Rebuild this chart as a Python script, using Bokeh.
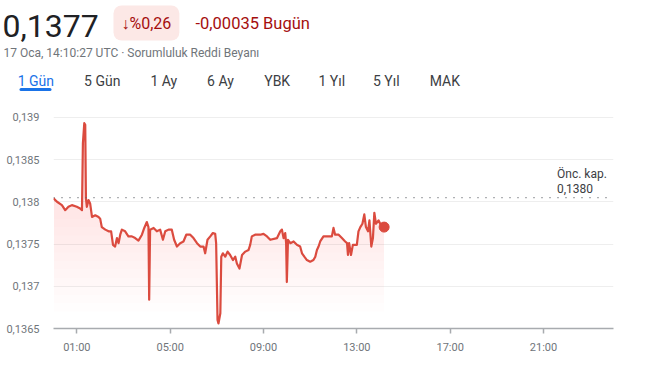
import numpy as np
from bokeh.plotting import figure
from bokeh.layouts import column
from bokeh.models import Range1d, FixedTicker, Span, Label
from bokeh.embed import file_html
from bokeh.resources import INLINE

# ---------------- data ----------------
hours = [0.00, 0.15, 0.36, 0.50, 0.64, 0.79, 1.00, 1.14, 1.22, 1.26, 1.32, 1.36, 1.39, 1.43, 1.50,
         1.57, 1.65, 1.79, 1.93, 2.00, 2.07, 2.22, 2.36, 2.47, 2.55, 2.64, 2.72, 2.79, 2.86, 2.93,
         3.07, 3.21, 3.36, 3.50, 3.64, 3.79, 3.89, 4.00, 4.07, 4.10, 4.14, 4.29, 4.43, 4.57, 4.69,
         4.79, 4.93, 5.07, 5.17, 5.29, 5.43, 5.57, 5.69, 5.86, 6.00, 6.15, 6.29, 6.43, 6.50, 6.60,
         6.72, 6.83, 6.93, 6.97, 7.03, 7.07, 7.15, 7.19, 7.26, 7.36, 7.46, 7.57, 7.69, 7.79, 7.86,
         7.97, 8.08, 8.22, 8.36, 8.43, 8.50, 8.64, 8.86, 9.00, 9.15, 9.29, 9.58, 9.72, 9.79, 9.86,
         9.93, 9.97, 10.00, 10.05, 10.15, 10.29, 10.43, 10.57, 10.65, 10.75, 10.86, 11.00, 11.14, 11.22,
         11.29, 11.36, 11.43, 11.57, 11.79, 11.93, 12.00, 12.07, 12.22, 12.36, 12.50, 12.58, 12.62,
         12.67, 12.75, 12.83, 13.00, 13.07, 13.15, 13.24, 13.32, 13.39, 13.48, 13.54, 13.62, 13.69,
         13.75, 13.82, 13.93, 14.00, 14.14, 14.17]
prices = [0.13804, 0.13800, 0.13796, 0.13790, 0.13794, 0.13796, 0.13794, 0.13792, 0.13790, 0.13869,
          0.13893, 0.13891, 0.13804, 0.13794, 0.13802, 0.13798, 0.13782, 0.13784, 0.13782, 0.13780,
          0.13770, 0.13767, 0.13765, 0.13765, 0.13749, 0.13747, 0.13757, 0.13751, 0.13761, 0.13767,
          0.13765, 0.13759, 0.13759, 0.13757, 0.13754, 0.13761, 0.13769, 0.13776, 0.13770, 0.13684,
          0.13767, 0.13769, 0.13765, 0.13767, 0.13755, 0.13765, 0.13767, 0.13767, 0.13755, 0.13747,
          0.13751, 0.13753, 0.13761, 0.13761, 0.13757, 0.13751, 0.13747, 0.13747, 0.13739, 0.13755,
          0.13759, 0.13763, 0.13762, 0.13751, 0.13660, 0.13656, 0.13668, 0.13735, 0.13739, 0.13735,
          0.13741, 0.13737, 0.13731, 0.13735, 0.13727, 0.13721, 0.13737, 0.13741, 0.13743, 0.13749,
          0.13759, 0.13761, 0.13761, 0.13762, 0.13759, 0.13755, 0.13757, 0.13765, 0.13767, 0.13757,
          0.13763, 0.13751, 0.13705, 0.13755, 0.13751, 0.13753, 0.13749, 0.13747, 0.13739, 0.13735,
          0.13731, 0.13729, 0.13731, 0.13735, 0.13743, 0.13747, 0.13753, 0.13759, 0.13759, 0.13759,
          0.13769, 0.13761, 0.13761, 0.13757, 0.13753, 0.13751, 0.13737, 0.13751, 0.13737, 0.13749,
          0.13749, 0.13765, 0.13770, 0.13774, 0.13785, 0.13770, 0.13765, 0.13778, 0.13747, 0.13757,
          0.13787, 0.13774, 0.13778, 0.13774, 0.13769, 0.13770]
prev_close = 0.13805
y_tick_values = [0.1365, 0.137, 0.1375, 0.138, 0.1385, 0.139]
y_tick_labels = ["0,1365", "0,137", "0,1375", "0,138", "0,1385", "0,139"]
x_tick_values = [1, 5, 9, 13, 17, 21]
x_tick_labels = ["01:00", "05:00", "09:00", "13:00", "17:00", "21:00"]
price_text = "0,1377"
change_pct_text = "↓%0,26"
change_abs_text = "-0,00035 Bugün"
date_text = "17 Oca, 14:10:27 UTC · Sorumluluk Reddi Beyanı"
tabs = ["1 Gün", "5 Gün", "1 Ay", "6 Ay", "YBK", "1 Yıl", "5 Yıl", "MAK"]
prev_label = ["Önc. kap.", "0,1380"]

# ---------------- styles ----------------
FONT = "Roboto"
RED = "#db4b3f"
W, H = 660, 365
HH = 100                              # header height
FL, FR, FT, FB = 53, 613, 110, 328    # chart frame edges on the page

# ---------------- header (pixel coordinates) ----------------
hdr = figure(width=W, height=HH, output_backend="svg", toolbar_location=None,
             x_range=Range1d(0, W), y_range=Range1d(HH, 0),
             min_border=0, x_axis_type=None, y_axis_type=None)
hdr.frame_align = False
hdr.outline_line_color = None
hdr.grid.visible = False
hdr.border_fill_color = "white"


def hlab(text, cx, cy, size, color, align="left", baseline="middle", **kw):
    hdr.add_layout(Label(x=cx, y=cy, text=text, text_font=FONT, text_font_size=size,
                         text_color=color, text_align=align, text_baseline=baseline, **kw))


hlab(price_text, 2, 25, "32px", "#202124")
hlab(change_pct_text, 113, 22.5, "16px", "#a50e0e", background_fill_color="#fce8e6",
     padding=8, border_radius=8)
hlab(change_abs_text, 195, 22.5, "16.5px", "#a50e0e")
hlab(date_text, 3, 52.5, "12px", "#70757a")

tab_centers = [35.3, 101.7, 163.3, 220, 276.7, 331.3, 385.8, 444.3]
for i, (t, c) in enumerate(zip(tabs, tab_centers)):
    hlab(t, c, 80, "14px", "#1a73e8" if i == 0 else "#3c4043", align="center")
hdr.segment(x0=[20.5], y0=[89], x1=[49.5], y1=[89], line_color="#1a73e8",
            line_width=3, line_cap="round")

# ---------------- chart ----------------
p = figure(width=W, height=H - HH, output_backend="svg", toolbar_location=None,
           x_range=Range1d(0, 24), y_range=Range1d(0.1365, 0.1365 + (FB - FT) / 84500.0),
           min_border_left=FL, min_border_right=W - FR, min_border_top=FT - HH,
           min_border_bottom=H - FB)
p.frame_align = False
p.outline_line_color = None
p.background_fill_color = "white"
p.border_fill_color = "white"

x = np.array(hours)
yv = np.array(prices)
for b in np.arange(0.1367, 0.13806, 0.0001):
    p.varea(x=x, y1=b, y2=np.maximum(yv, b), fill_color=RED, fill_alpha=0.0105)

p.line(x, yv, line_color=RED, line_width=2.2, line_join="round")
p.scatter([hours[-1]], [prices[-1]], size=10, color=RED)

p.add_layout(Span(location=prev_close, dimension="width", line_color="#5f6368",
                  line_dash="1 7", line_width=1.2))

p.xgrid.grid_line_color = None
p.ygrid.grid_line_color = "#eeeeee"
p.ygrid.ticker = FixedTicker(ticks=y_tick_values)
p.yaxis.ticker = FixedTicker(ticks=y_tick_values)
p.yaxis.major_label_overrides = dict(zip(y_tick_values, y_tick_labels))
p.yaxis.axis_line_color = None
p.yaxis.major_tick_line_color = None
p.yaxis.minor_tick_line_color = None
p.yaxis.major_label_standoff = 8
p.yaxis.major_label_text_font = FONT
p.yaxis.major_label_text_font_size = "11px"
p.yaxis.major_label_text_color = "#70757a"

p.xaxis.ticker = FixedTicker(ticks=x_tick_values)
p.xaxis.major_label_overrides = dict(zip(x_tick_values, x_tick_labels))
p.xaxis.axis_line_color = "#a8abaf"
p.xaxis.axis_line_width = 1.3
p.xaxis.major_tick_line_color = "#a8abaf"
p.xaxis.major_tick_line_width = 1.5
p.xaxis.major_tick_in = 0
p.xaxis.major_tick_out = 5
p.xaxis.minor_tick_line_color = None
p.xaxis.major_label_standoff = 7
p.xaxis.major_label_text_font = FONT
p.xaxis.major_label_text_font_size = "11px"
p.xaxis.major_label_text_color = "#70757a"

for txt, cy in zip(prev_label, [173.5, 187.5]):
    p.add_layout(Label(x=556.5 - FL, y=FB - cy, x_units="screen", y_units="screen", text=txt,
                       text_font=FONT, text_font_size="12px", text_color="#3c4043",
                       text_baseline="middle"))

layout = column(hdr, p, spacing=0)
open("out.html", "w").write(file_html(layout, INLINE))
